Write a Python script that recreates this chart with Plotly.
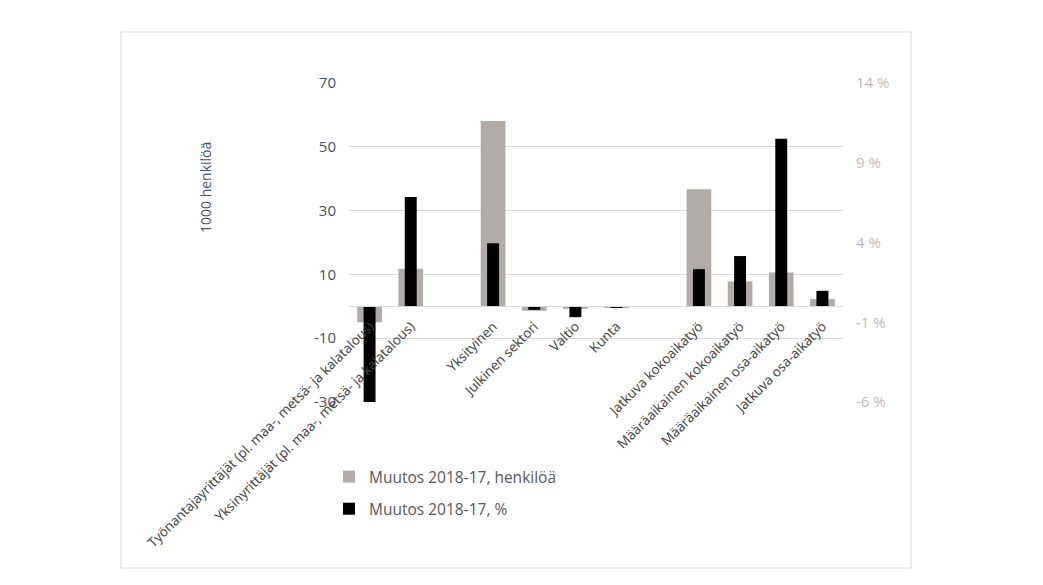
import plotly.graph_objects as go

# Categories (blank entries separate the three groups)
categories = [
    "Työnantajayrittäjät (pl. maa-, metsä- ja kalatalous)",
    "Yksinyrittäjät (pl. maa-, metsä- ja kalatalous)",
    " ",
    "Yksityinen",
    "Julkinen sektori",
    "Valtio",
    "Kunta",
    "  ",
    "Jatkuva kokoaikatyö",
    "Määräaikainen kokoaikatyö",
    "Määräaikainen osa-aikatyö",
    "Jatkuva osa-aikatyö",
]

# Change 2018-17, thousand persons (left axis)
change_persons = [-5.0, 11.8, None, 58.1, -1.4, -0.8, -0.3, None, 36.7, 7.8, 10.6, 2.3]
# Change 2018-17, percent (right axis)
change_pct = [-6.0, 6.85, None, 3.95, -0.22, -0.68, -0.05, None, 2.33, 3.15, 10.5, 0.97]

left_ticks = [-30, -10, 10, 30, 50, 70]
left_labels = ["-30", "-10", "10", "30", "50", "70"]
right_ticks = [-6, -1, 4, 9, 14]
right_labels = ["-6 %", "-1 %", "4 %", "9 %", "14 %"]

W, H = 1043, 585
L, R, T, B = 349, 843, 83, 402  # plot area in pixels


def px_x(x):
    return (x - L) / (R - L)


def px_y(y):
    return (B - y) / (B - T)


GRID = "#D9D9D9"
FONT = "Open Sans, Segoe UI, sans-serif"

fig = go.Figure()
fig.add_trace(go.Bar(
    x=categories, y=change_persons, name="Muutos 2018-17, henkilöä",
    marker=dict(color="#B3ABA7", line=dict(width=0)), width=0.6,
    yaxis="y", legendgroup="a",
))
fig.add_trace(go.Bar(
    x=categories, y=change_pct, name="Muutos 2018-17, %",
    marker=dict(color="#000000", line=dict(width=0)), width=0.29,
    yaxis="y2", legendgroup="b",
))

fig.update_layout(
    width=W, height=H,
    margin=dict(l=L, r=W - R, t=T, b=H - B, pad=0),
    paper_bgcolor="white", plot_bgcolor="white",
    barmode="overlay",
    font=dict(family=FONT, color="#595959"),
    showlegend=True,
    legend=dict(
        x=px_x(329), y=px_y(460), xanchor="left", yanchor="top",
        font=dict(size=15.5, color="#595959", family=FONT),
        tracegroupgap=9, bgcolor="rgba(0,0,0,0)",
    ),
    xaxis=dict(
        type="category", categoryorder="array", categoryarray=categories,
        anchor="free", position=0.3,
        showline=True, linecolor=GRID, linewidth=1,
        showgrid=False, ticks="", tickangle=-45,
        ticklabelstandoff=6,
        tickfont=dict(size=13.5, color="#404040", family=FONT),
        automargin=False,
    ),
    yaxis=dict(
        range=[-30, 70], tickvals=left_ticks, ticktext=left_labels,
        showgrid=True, gridcolor=GRID, gridwidth=1,
        zeroline=False, showline=False, ticks="",
        ticklabelstandoff=12,
        tickfont=dict(size=15, color="#44546A", family=FONT),
        automargin=False,
    ),
    yaxis2=dict(
        range=[-6, 14], tickvals=right_ticks, ticktext=right_labels,
        overlaying="y", side="right",
        showgrid=False, zeroline=False, showline=False, ticks="",
        ticklabelstandoff=12,
        tickfont=dict(size=15, color="#BFB8B4", family=FONT),
        automargin=False,
    ),
    annotations=[dict(
        text="1000 henkilöä", textangle=-90,
        xref="paper", yref="paper", x=px_x(205), y=px_y(188),
        xanchor="center", yanchor="middle",
        showarrow=False, font=dict(size=14, color="#44546A", family=FONT),
    )],
    shapes=[dict(
        type="rect", xref="paper", yref="paper",
        x0=px_x(121), x1=px_x(911), y0=px_y(568), y1=px_y(32),
        line=dict(color=GRID, width=1), layer="below",
    )],
)

fig.write_html("out.html")
